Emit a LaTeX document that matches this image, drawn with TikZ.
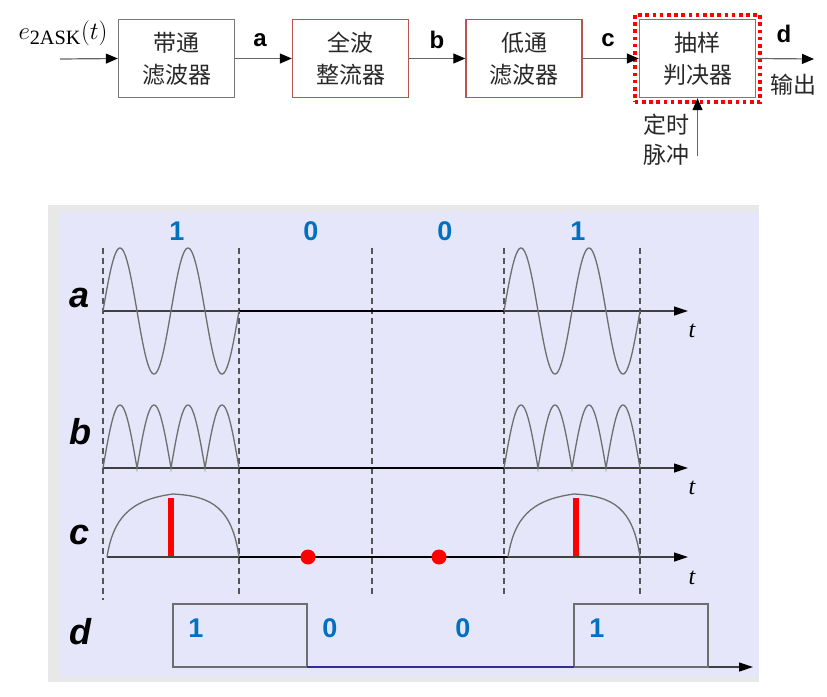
\documentclass[tikz,border=0pt]{standalone}
\usepackage{fontspec}
\setmainfont{Liberation Serif}
\newfontfamily\cjk{Noto Sans CJK SC}
\newfontfamily\arsans{Liberation Sans}
\usetikzlibrary{arrows.meta,fit}
\definecolor{boxgray}{RGB}{120,120,120}
\definecolor{boxred}{RGB}{185,85,80}
\definecolor{bitblue}{RGB}{0,112,192}
\definecolor{lav}{RGB}{230,230,250}
\definecolor{shadowgray}{RGB}{232,232,232}
\definecolor{wavegray}{RGB}{110,110,110}
\definecolor{dashgray}{RGB}{85,85,85}
\definecolor{dblue}{RGB}{46,49,146}
\definecolor{txt}{RGB}{40,40,40}
\begin{document}
\begin{tikzpicture}[x=1pt,y=-1pt,
  blockbox/.style={draw=boxgray,line width=1.4pt,minimum width=116pt,minimum height=78pt,align=center,
    font=\cjk\fontsize{23}{32}\selectfont,text=txt,inner sep=0pt},
  redbox/.style={blockbox,draw=boxred},
  flow/.style={draw=black!60,line width=1.2pt,-{Triangle[length=12pt,width=10pt,color=black]}},
  toplbl/.style={font=\arsans\bfseries\fontsize{24}{24}\selectfont},
  bitlbl/.style={font=\arsans\bfseries\fontsize{27}{27}\selectfont,text=bitblue},
  sigl/.style={font=\arsans\bfseries\itshape\fontsize{36}{36}\selectfont},
  tlbl/.style={font=\itshape\fontsize{24}{24}\selectfont},
  wave/.style={draw=wavegray,line width=1.3pt},
  axis/.style={draw=black!75,line width=1.2pt,-{Triangle[length=14pt,width=9pt,color=black]}},
  thickaxis/.style={draw=black,line width=2.6pt},
  vdash/.style={draw=dashgray,line width=1.5pt,dash pattern=on 6pt off 4pt},
  redbar/.style={draw=red,line width=6pt},
  cjklbl/.style={font=\cjk\fontsize{23}{30}\selectfont,text=txt,align=center}
]
\useasboundingbox (0,0) rectangle (827,696);
% ---------- block diagram ----------
\node[blockbox] (bpf) at (176.5,58.5) {带通\\滤波器};
\node[redbox] (rect) at (350.5,58.5) {全波\\整流器};
\node[redbox] (lpf) at (524,58.5) {低通\\滤波器};
\node[blockbox] (dec) at (697.5,58.5) {抽样\\判决器};
\node[fit=(dec),inner sep=4pt,draw=red,line width=3.6pt,dash pattern=on 3.6pt off 3.6pt] (frame) {};
\coordinate (in) at (60,59);
\coordinate (out) at (814,59);
\coordinate (tp) at (697.5,156);
\draw[flow] (in) -- (bpf.west);
\draw[flow] (bpf.east) -- (rect.west);
\draw[flow] (rect.east) -- (lpf.west);
\draw[flow] (lpf.east) -- (dec.west);
\draw[flow] (dec.east) -- (out);
\draw[flow] (tp) -- (dec.south);
\node[font=\fontsize{29}{29}\selectfont] (ein) at (63,33) {$e_{\mathrm{2ASK}}(t)$};
\node[toplbl] (la) at (260,40) {a};
\node[toplbl] (lb) at (437,40) {b};
\node[toplbl] (lc) at (608,40) {c};
\node[toplbl] (ld) at (784,34) {d};
\node[cjklbl] (outl) at (793,85) {输出};
\node[cjklbl] (tpl) at (666,140) {定时\\脉冲};
% ---------- waveform panel ----------
\fill[shadowgray] (48,205) rectangle (759,682);
\fill[lav] (60,212) rectangle (759,677);
% bit labels
\node[bitlbl] (b1) at (177,231) {1};
\node[bitlbl] (b2) at (311,231) {0};
\node[bitlbl] (b3) at (445,231) {0};
\node[bitlbl] (b4) at (578,231) {1};
% dashed verticals
\draw[vdash] (103,248) -- (103,600);
\draw[vdash] (239,248) -- (239,596);
\draw[vdash] (372,248) -- (372,596);
\draw[vdash] (504,248) -- (504,596);
\draw[vdash] (640,248) -- (640,596);
% signal labels
\node[sigl] (sa) at (80,298) {a};
\node[sigl] (sb) at (80,432) {b};
\node[sigl] (sc) at (80,535) {c};
\node[sigl] (sd) at (80,632) {d};
% a
\draw[axis] (103,311) -- (688,311);
\draw[thickaxis] (239,311) -- (504,311);
\draw[wave] plot[domain=0:136,samples=150,smooth] ({103+\x},{311-63*sin(5.29412*\x)});
\draw[wave] plot[domain=0:136,samples=150,smooth] ({504+\x},{311-63*sin(5.29412*\x)});
\node[tlbl] (ta) at (692,331) {t};
% b
\draw[axis] (103,468) -- (688,468);
\draw[thickaxis] (239,468) -- (504,468);
\draw[wave] plot[domain=0:136,samples=161] ({103+\x},{468-63*abs(sin(5.29412*\x))});
\draw[wave] plot[domain=0:136,samples=161] ({504+\x},{468-63*abs(sin(5.29412*\x))});
\node[tlbl] (tb) at (692,488) {t};
% c
\draw[axis] (107,557) -- (688,557);
\draw[thickaxis] (239,557) -- (508,557);
\draw[wave] (107,557) .. controls (113,520) and (128,500) .. (173,494) .. controls (212,496) and (232,508) .. (239,557);
\draw[wave] (508,557) .. controls (514,520) and (529,500) .. (574,494) .. controls (613,496) and (633,508) .. (640,557);
\draw[redbar] (171,498) -- (171,556);
\draw[redbar] (576,498) -- (576,556);
\fill[red] (308,557) circle (7.5pt);
\fill[red] (439,557) circle (7.5pt);
\node[tlbl] (tc) at (692,578) {t};
% d
\draw[axis] (173,667) -- (753,667);
\draw[draw=wavegray,line width=1.3pt] (173,667) rectangle (307,604);
\draw[draw=wavegray,line width=1.3pt] (574,667) rectangle (708,604);
\draw[draw=dblue,line width=2.6pt] (307,667) -- (574,667);
\node[bitlbl] (d1) at (196,628) {1};
\node[bitlbl] (d2) at (330,628) {0};
\node[bitlbl] (d3) at (463,628) {0};
\node[bitlbl] (d4) at (597,628) {1};
\end{tikzpicture}
\end{document}
